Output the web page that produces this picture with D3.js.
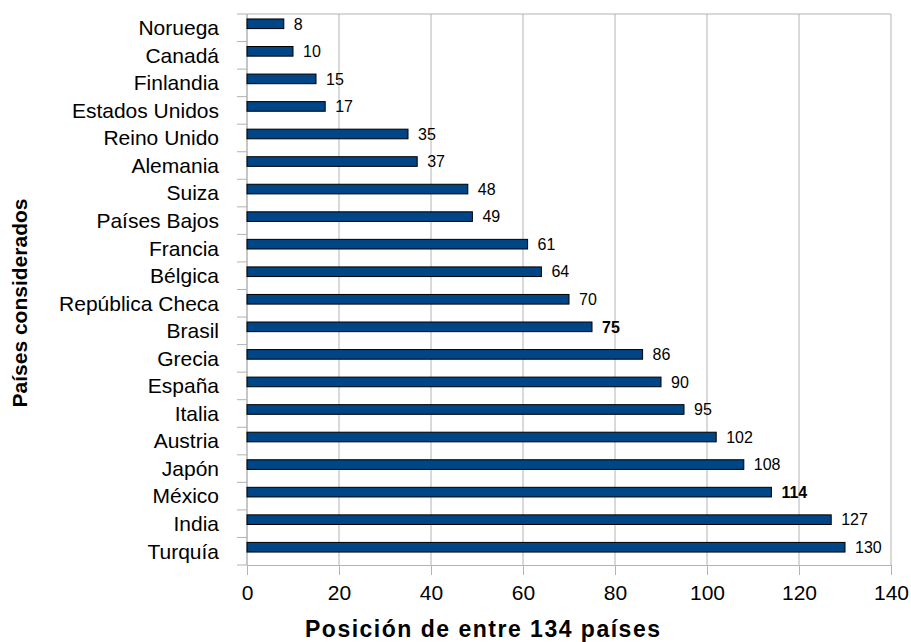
<!DOCTYPE html>
<html>
<head>
<meta charset="utf-8">
<script src="https://cdn.jsdelivr.net/npm/d3@7"></script>
<style>
  body { margin: 0; background: #fff; }
  text { font-family: "Liberation Sans", Arial, sans-serif; fill: #000; }
</style>
</head>
<body>
<div id="chart"></div>
<script>
const paises = ["Noruega", "Canadá", "Finlandia", "Estados Unidos", "Reino Unido", "Alemania", "Suiza",
  "Países Bajos", "Francia", "Bélgica", "República Checa", "Brasil", "Grecia", "España", "Italia",
  "Austria", "Japón", "México", "India", "Turquía"];
const posicion = [8, 10, 15, 17, 35, 37, 48, 49, 61, 64, 70, 75, 86, 90, 95, 102, 108, 114, 127, 130];
const destacados = ["Brasil", "México"];
const xTicks = [0, 20, 40, 60, 80, 100, 120, 140];

const width = 911, height = 642;
const margin = { top: 14, right: 20, bottom: 77, left: 247 };
const barColor = "#004586";
const gridColor = "#b3b3b3";

const svg = d3.select("#chart").append("svg").attr("width", width).attr("height", height);

const x = d3.scaleLinear().domain([0, 140]).range([margin.left, width - margin.right]);
const y = d3.scaleBand().domain(paises).range([margin.top, height - margin.bottom]);
const step = y.step();

// grid
svg.append("g").selectAll("line").data(xTicks).join("line")
  .attr("x1", d => x(d)).attr("x2", d => x(d))
  .attr("y1", margin.top).attr("y2", height - margin.bottom)
  .attr("stroke", gridColor);

// marco arriba
svg.append("line")
  .attr("x1", margin.left).attr("x2", width - margin.right)
  .attr("y1", margin.top).attr("y2", margin.top)
  .attr("stroke", gridColor);

// eje x
const xAxis = svg.append("g")
  .attr("transform", `translate(0,${height - margin.bottom})`)
  .call(d3.axisBottom(x).tickValues(xTicks).tickSize(10).tickPadding(10));
xAxis.select(".domain").attr("stroke", gridColor);
xAxis.selectAll(".tick line").attr("stroke", gridColor);
xAxis.selectAll(".tick text").attr("font-size", 21).attr("font-family", "Liberation Sans, Arial, sans-serif");

// eje y: marcas entre categorias
const yBounds = paises.map(p => y(p)).concat([height - margin.bottom]);
svg.append("g").selectAll("line").data(yBounds).join("line")
  .attr("x1", margin.left - 10).attr("x2", margin.left)
  .attr("y1", d => d).attr("y2", d => d)
  .attr("stroke", gridColor);
svg.append("line")
  .attr("x1", margin.left).attr("x2", margin.left)
  .attr("y1", margin.top).attr("y2", height - margin.bottom)
  .attr("stroke", gridColor);

svg.append("g").selectAll("text").data(paises).join("text")
  .attr("x", margin.left - 28)
  .attr("y", d => y(d) + step / 2)
  .attr("dy", "0.35em")
  .attr("text-anchor", "end")
  .attr("font-size", 21)
  .text(d => d);

// barras
svg.append("g").selectAll("rect").data(paises).join("rect")
  .attr("x", x(0))
  .attr("y", d => y(d) + step * 0.18)
  .attr("width", (d, i) => x(posicion[i]) - x(0))
  .attr("height", step * 0.35)
  .attr("fill", barColor)
  .attr("stroke", "#000")
  .attr("stroke-width", 1);

// valores
svg.append("g").selectAll("text").data(paises).join("text")
  .attr("x", (d, i) => x(posicion[i]) + 10)
  .attr("y", d => y(d) + step * 0.18 + step * 0.175)
  .attr("dy", "0.36em")
  .attr("font-size", 16)
  .attr("font-weight", d => destacados.includes(d) ? "bold" : "normal")
  .text((d, i) => posicion[i]);

// titulos
svg.append("text")
  .attr("x", 305).attr("y", 637)
  .attr("text-anchor", "start")
  .attr("font-size", 23).attr("font-weight", "bold")
  .attr("letter-spacing", 1.5)
  .text("Posición de entre 134 países");

svg.append("text")
  .attr("transform", "translate(27,303) rotate(-90)")
  .attr("text-anchor", "middle")
  .attr("font-size", 21).attr("font-weight", "bold")
  .text("Países considerados");
</script>
</body>
</html>
